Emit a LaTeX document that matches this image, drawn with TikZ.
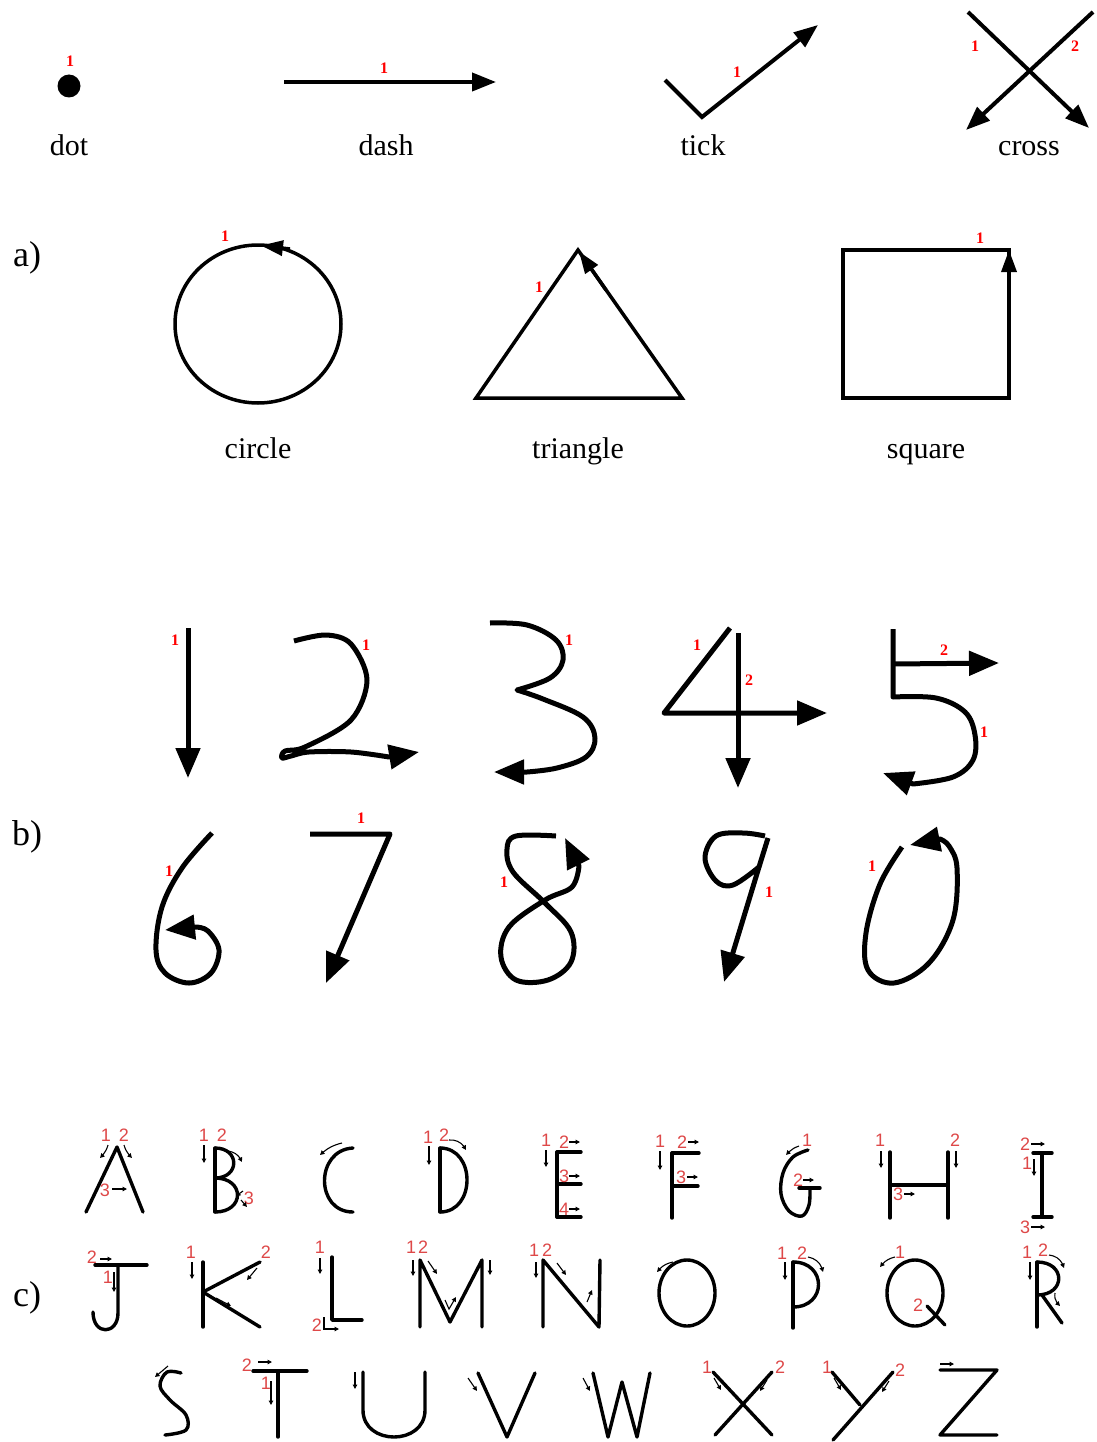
\documentclass[tikz,border=0pt]{standalone}
\usepackage{fontspec}
\setmainfont{Liberation Serif}
\newfontfamily\lsans{Liberation Sans}
\usetikzlibrary{arrows.meta,bending}
\definecolor{lred}{RGB}{222,72,72}
\begin{document}
\begin{tikzpicture}[x=1pt,y=-1pt,
  lbl/.style={font=\fontsize{30}{32}\selectfont, anchor=base, inner sep=0},
  sec/.style={font=\fontsize{36}{38}\selectfont, anchor=base, inner sep=0},
  rn/.style={text=red, font=\fontsize{16}{18}\selectfont\bfseries, inner sep=0},
  ln/.style={text=lred, font=\lsans\fontsize{18}{20}\selectfont, inner sep=0},
  top/.style={line width=4pt, line join=miter},
  shp/.style={line width=3.5pt, line join=miter},
  dg/.style={line width=5pt, line cap=butt, line join=round},
  lt/.style={line width=3.4pt, line cap=round, line join=round},
  bigA/.style={-{Triangle[length=24pt,width=18pt]}},
  shA/.style={-{Triangle[length=22pt,width=15pt]}},
  digA/.style={-{Triangle[length=30pt,width=24pt]}},
  sar/.style={line width=1.1pt, -{Triangle[length=4.5pt,width=4.5pt]}}
]
\useasboundingbox (0,0) rectangle (1096,1442);
\fill[white] (0,0) rectangle (1096,1442);

% ---------- top row ----------
\fill (69,86) circle (11.5);
\node[rn] (n-dot) at (70,61) {1};
\node[lbl] (t-dot) at (69,156) {dot};

\draw[top,bigA] (284,82) -- (496,82);
\node[rn] (n-dash) at (384,68) {1};
\node[lbl] (t-dash) at (386,156) {dash};

\draw[top,bigA] (665,80) -- (702,117) -- (818,25);
\node[rn] (n-tick) at (737,72) {1};
\node[lbl] (t-tick) at (703,156) {tick};

\draw[top,bigA] (968,12) -- (1089,128);
\draw[top,bigA] (1093,12) -- (966,130);
\node[rn] (n-cr1) at (975,46) {1};
\node[rn] (n-cr2) at (1075,46) {2};
\node[lbl] (t-cross) at (1029,156) {cross};

% ---------- a) ----------
\node[sec] (sa) at (27,266) {a)};
\draw[shp] (258,324) ellipse [x radius=83, y radius=79];
\draw[shp,shA] (290,249) -- (261,245.5);
\node[rn] (n-circ) at (225,236) {1};
\node[lbl] (t-circ) at (258,458) {circle};

\draw[shp] (578,250) -- (476,398) -- (682,398) -- cycle;
\draw[shp,shA] (606,290) -- (579,251.5);
\node[rn] (n-tri) at (539,287) {1};
\node[lbl] (t-tri) at (578,458) {triangle};

\draw[shp] (843,250) rectangle (1009,398);
\draw[shp,shA] (1009,300) -- (1009,250);
\node[rn] (n-sq) at (980,238) {1};
\node[lbl] (t-sq) at (926,458) {square};

% ---------- b) ----------
\node[sec] (sb) at (27,845) {b)};
% 1
\draw[dg,digA] (188,628) -- (188,778);
\node[rn] (n-d1) at (175,640) {1};
% 2
\draw[dg,digA] plot[smooth,tension=0.55] coordinates {(294,641) (326,635) (351,644) (367,680) (351,720) (305,747) (285,751) (282,758) (291,756) (309,752) (351,752) (389,757)} -- (419,752);
\node[rn] (n-d2) at (366,645) {1};
% 3
\draw[dg,digA] plot[smooth,tension=0.6] coordinates {(490,623) (527,625) (556,640) (563,660) (550,678) (517,690)} -- plot[smooth,tension=0.6] coordinates {(517,690) (543,699) (583,717) (595,738) (586,757) (557,768) (527,772)} -- (494,772);
\node[rn] (n-d3) at (569,640) {1};
% 4
\draw[dg,digA] (730,628) -- (664,713) -- (827,713);
\draw[dg,digA] (738,633) -- (738,788);
\node[rn] (n-d4a) at (697,645) {1};
\node[rn] (n-d4b) at (749,680) {2};
% 5
\draw[dg,digA] (893,629) -- (893,697) -- plot[smooth,tension=0.6] coordinates {(893,697) (936,698) (965,712) (975,735) (973,760) (953,777) (913,784)} -- (883,773);
\draw[dg,digA] (893,664) -- (999,663);
\node[rn] (n-d5a) at (984,732) {1};
\node[rn] (n-d5b) at (944,650) {2};
% 6
\draw[dg,digA] plot[smooth,tension=0.6] coordinates {(212,833) (182,868) (162,907) (156,950) (165,973) (189,983) (211,973) (219,950) (208,931) (196,927)} -- (165,930);
\node[rn] (n-d6) at (169,871) {1};
% 7
\draw[dg,digA] (310,834) -- (390,834) -- (326,983);
\node[rn] (n-d7) at (361,818) {1};
% 8
\draw[dg,digA] plot[smooth,tension=0.6] coordinates {(556,836) (516,836) (507,849) (513,872) (545,903) (571,932) (571,962) (548,980) (516,980) (501,957) (509,927) (545,900) (572,887) (579,866)} -- (565,838);
\node[rn] (n-d8) at (504,882) {1};
% 9
\draw[dg,digA] plot[smooth,tension=0.6] coordinates {(765,836) (743,833) (716,836) (705,858) (716,881) (733,885) (759,867)} -- (724,982);
\draw[dg] (768,838) -- (759,867);
\node[rn] (n-d9) at (769,892) {1};
% 0
\draw[dg,digA] plot[smooth,tension=0.6] coordinates {(902,847) (880,884) (866,933) (868,970) (894,983) (929,963) (953,920) (957,868) (949,846) (940,839)} -- (910,845);
\node[rn] (n-d0) at (872,866) {1};

% ---------- c) ----------
\node[sec] (sc) at (27,1306) {c)};
% A
\draw[lt] (86,1212) -- (117,1147) -- (143,1212);
\node[ln] (a1) at (106,1135) {1};
\node[ln] (a2) at (124,1135) {2};
\draw[sar] (108,1145) to[bend left=15] (100,1158);
\draw[sar] (124,1145) to[bend right=15] (132,1158);
\node[ln] (a3) at (105,1190) {3};
\draw[sar] (112,1189) -- (127,1189);
% B
\draw[lt] (215,1148) -- (215,1212);
\draw[lt] (215,1148) .. controls (240,1148) and (240,1178) .. (215,1178);
\draw[lt] (215,1178) .. controls (245,1178) and (245,1212) .. (215,1212);
\node[ln] (b1) at (204,1135) {1};
\node[ln] (b2) at (222,1135) {2};
\draw[sar] (204,1145) -- (204,1163);
\draw[sar] (228,1151) to[bend left=30] (242,1162);
\node[ln] (b3) at (249,1198) {3};
\draw[sar] (243,1191) -- (236,1196);
\draw[sar] (241,1200) -- (247,1207);
% C
\draw[lt] (353,1148) .. controls (315,1150) and (315,1212) .. (353,1212);
\draw[sar] (342,1143) to[bend right=15] (320,1155);
% D
\draw[lt] (440,1148) -- (440,1212);
\draw[lt] (440,1148) .. controls (476,1148) and (476,1212) .. (440,1212);
\node[ln] (d1) at (428,1137) {1};
\node[ln] (d2) at (444,1135) {2};
\draw[sar] (429,1146) -- (429,1165);
\draw[sar] (449,1140) to[bend left=35] (466,1150);
% E
\draw[lt] (557,1152) -- (557,1217);
\draw[lt] (557,1152) -- (581,1152);
\draw[lt] (557,1184) -- (581,1184);
\draw[lt] (557,1217) -- (581,1217);
\node[ln] (e1) at (546,1140) {1};
\draw[sar] (546,1150) -- (546,1167);
\node[ln] (e2) at (564,1142) {2};
\draw[sar] (569,1142) -- (580,1142);
\node[ln] (e3) at (564,1176) {3};
\draw[sar] (569,1176) -- (580,1176);
\node[ln] (e4) at (564,1209) {4};
\draw[sar] (569,1209) -- (580,1209);
% F
\draw[lt] (672,1153) -- (672,1218);
\draw[lt] (672,1153) -- (699,1153);
\draw[lt] (672,1186) -- (698,1186);
\node[ln] (f1) at (660,1141) {1};
\draw[sar] (660,1151) -- (660,1170);
\node[ln] (f2) at (682,1142) {2};
\draw[sar] (688,1142) -- (699,1142);
\node[ln] (f3) at (681,1177) {3};
\draw[sar] (687,1177) -- (698,1177);
% G
\draw[lt] plot[smooth,tension=0.6] coordinates {(808,1150) (793,1157) (783,1173) (781,1194) (789,1211) (802,1216) (809,1205) (810,1188)};
\draw[lt] (799,1188) -- (820,1188);
\node[ln] (g1) at (807,1140) {1};
\draw[sar] (799,1146) to[bend right=15] (786,1155);
\node[ln] (g2) at (798,1180) {2};
\draw[sar] (803,1180) -- (814,1180);
% H
\draw[lt] (890,1152) -- (890,1218);
\draw[lt] (948,1152) -- (948,1218);
\draw[lt] (890,1185) -- (948,1185);
\node[ln] (h1) at (880,1140) {1};
\node[ln] (h2) at (955,1140) {2};
\draw[sar] (881,1151) -- (881,1168);
\draw[sar] (956,1151) -- (956,1168);
\node[ln] (h3) at (898,1194) {3};
\draw[sar] (904,1194) -- (915,1194);
% I
\draw[lt] (1042,1153) -- (1042,1217);
\draw[lt] (1033,1153) -- (1052,1153);
\draw[lt] (1033,1217) -- (1052,1217);
\node[ln] (i2) at (1025,1144) {2};
\draw[sar] (1031,1144) -- (1045,1144);
\node[ln] (i1) at (1027,1163) {1};
\draw[sar] (1034,1159) -- (1034,1176);
\node[ln] (i3) at (1025,1227) {3};
\draw[sar] (1031,1227) -- (1045,1227);
% J
\draw[lt] (95,1265) -- (147,1265);
\draw[lt] (118,1267) -- (118,1313) .. controls (118,1335) and (93,1336) .. (93,1312);
\node[ln] (j2) at (92,1257) {2};
\draw[sar] (100,1259) -- (112,1259);
\node[ln] (j1) at (108,1277) {1};
\draw[sar] (114,1272) -- (114,1292);
% K
\draw[lt] (203,1262) -- (203,1327);
\draw[lt] (260,1262) -- (203,1292) -- (260,1327);
\node[ln] (k1) at (191,1252) {1};
\draw[sar] (192,1262) -- (192,1279);
\node[ln] (k2) at (266,1252) {2};
\draw[sar] (257,1268) -- (247,1280);
\draw[sar] (216,1298) -- (231,1306);
% L
\draw[lt] (332,1257) -- (332,1320) -- (362,1320);
\node[ln] (l1) at (320,1247) {1};
\draw[sar] (320,1258) -- (320,1274);
\node[ln] (l2) at (317,1325) {2};
\draw[sar] (324,1317) -- (324,1329) -- (339,1329);
% M
\draw[lt] (420,1327) -- (420,1260) -- (450,1322) -- (482,1260) -- (482,1327);
\node[ln] (m1) at (411,1247) {1};
\node[ln] (m2) at (423,1247) {2};
\draw[sar] (413,1260) -- (413,1276);
\draw[sar] (428,1261) -- (437,1274);
\draw[sar] (490,1260) -- (490,1275);
\draw[sar] (445,1300) -- (449,1309) -- (456,1297);
% N
\draw[lt] (543,1327) -- (543,1260) -- (599,1327) -- (600,1260);
\node[ln] (nn1) at (534,1250) {1};
\node[ln] (nn2) at (547,1250) {2};
\draw[sar] (536,1262) -- (536,1278);
\draw[sar] (557,1263) -- (566,1275);
\draw[sar] (587,1302) -- (592,1290);
% O
\draw[lt] (687,1293) ellipse [x radius=28, y radius=33];
\draw[sar] (673,1262) to[bend right=20] (657,1272);
% P
\draw[lt] (793,1262) -- (793,1328);
\draw[lt] (793,1262) .. controls (827,1262) and (827,1307) .. (793,1307);
\node[ln] (p1) at (782,1253) {1};
\node[ln] (p2) at (802,1253) {2};
\draw[sar] (785,1262) -- (785,1280);
\draw[sar] (808,1257) to[bend left=35] (823,1272);
% Q
\draw[lt] (915,1293) ellipse [x radius=28, y radius=33];
\draw[lt] (927,1306) -- (945,1325);
\node[ln] (q1) at (900,1252) {1};
\draw[sar] (895,1257) to[bend right=20] (880,1267);
\node[ln] (q2) at (918,1305) {2};
% R
\draw[lt] (1037,1262) -- (1037,1327);
\draw[lt] (1037,1262) .. controls (1066,1262) and (1066,1295) .. (1037,1295);
\draw[lt] (1042,1295) -- (1062,1323);
\node[ln] (r1) at (1027,1252) {1};
\node[ln] (r2) at (1043,1250) {2};
\draw[sar] (1030,1262) -- (1030,1280);
\draw[sar] (1049,1255) to[bend left=35] (1064,1268);
\draw[sar] (1055,1293) to[bend right=30] (1060,1306);
% S
\draw[lt] plot[smooth,tension=0.6] coordinates {(181,1373) (167,1372) (160,1386) (170,1400) (186,1415) (186,1430) (165,1435)};
\draw[sar] (168,1366) -- (155,1377);
% T
\draw[lt] (253,1371) -- (307,1371);
\draw[lt] (278,1371) -- (278,1437);
\node[ln] (t2) at (247,1365) {2};
\draw[sar] (258,1362) -- (272,1362);
\node[ln] (t1) at (266,1383) {1};
\draw[sar] (271,1381) -- (271,1405);
% U
\draw[lt] (363,1372) -- (363,1410) .. controls (363,1446) and (425,1446) .. (425,1410) -- (425,1372);
\draw[sar] (355,1372) -- (355,1389);
% V
\draw[lt] (478,1373) -- (507,1437) -- (535,1373);
\draw[sar] (468,1378) -- (477,1391);
% W
\draw[lt] (593,1373) -- (608,1437) -- (622,1382) -- (637,1437) -- (650,1373);
\draw[sar] (583,1378) -- (590,1391);
% X
\draw[lt] (713,1372) -- (772,1435);
\draw[lt] (772,1372) -- (715,1435);
\node[ln] (x1) at (707,1367) {1};
\node[ln] (x2) at (780,1367) {2};
\draw[sar] (714,1378) -- (721,1390);
\draw[sar] (767,1380) -- (760,1391);
% Y
\draw[lt] (832,1372) -- (860,1405);
\draw[lt] (893,1372) -- (833,1440);
\node[ln] (y1) at (827,1367) {1};
\node[ln] (y2) at (900,1370) {2};
\draw[sar] (834,1378) -- (841,1390);
\draw[sar] (889,1381) -- (882,1392);
% Z
\draw[lt] (940,1370) -- (997,1370) -- (940,1435) -- (997,1435);
\draw[sar] (940,1364) -- (954,1364);
\end{tikzpicture}
\end{document}
